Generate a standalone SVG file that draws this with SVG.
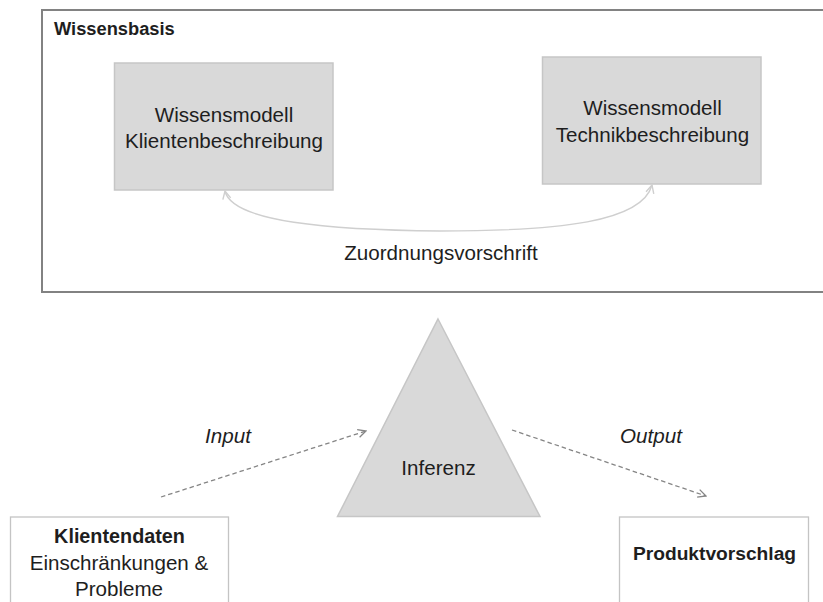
<svg xmlns="http://www.w3.org/2000/svg" width="823" height="602" viewBox="0 0 823 602">
  <style>
    text { font-family: "Liberation Sans", Arial, sans-serif; fill: #1e1e1e; }
    .lbl { font-size: 20.6px; text-anchor: middle; }
    .bold { font-weight: bold; }
    .ital { font-style: italic; }
    .title { font-size: 18.3px; }
    .client { font-size: 19.8px; }
    .product { font-size: 19.2px; }
    .model { fill: #d9d9d9; stroke: #c6c6c6; stroke-width: 1.5; }
    .plain { fill: #ffffff; stroke: #c4c4c4; stroke-width: 1.3; }
    .flow { fill: none; stroke: #858585; stroke-width: 1.3; stroke-dasharray: 4.5 3; }
    .map { fill: none; stroke: #cfcfcf; stroke-width: 1.4; }
  </style>
  <defs>
    <marker id="chevDark" viewBox="0 0 10 10" refX="9" refY="5" markerWidth="10" markerHeight="10" markerUnits="userSpaceOnUse" orient="auto">
      <path d="M1,1 L9,5 L1,9" fill="none" stroke="#858585" stroke-width="1.3"/>
    </marker>
    <marker id="chevLight" viewBox="0 0 10 10" refX="9" refY="5" markerWidth="10" markerHeight="10" markerUnits="userSpaceOnUse" orient="auto-start-reverse">
      <path d="M1,1 L9,5 L1,9" fill="none" stroke="#cfcfcf" stroke-width="1.4"/>
    </marker>
  </defs>

  <rect width="823" height="602" fill="#ffffff"/>

  <!-- knowledge base container -->
  <g id="wissensbasis">
    <rect x="42" y="10" width="800" height="282" fill="none" stroke="#828282" stroke-width="2"/>
    <text x="54" y="35" class="bold title">Wissensbasis</text>
  </g>

  <g id="modell-klienten">
    <rect class="model" x="114.5" y="63" width="218.5" height="127"/>
    <text class="lbl" x="224" y="121.5">Wissensmodell</text>
    <text class="lbl" x="224" y="148">Klientenbeschreibung</text>
  </g>

  <g id="modell-technik">
    <rect class="model" x="542.5" y="57" width="218.5" height="127"/>
    <text class="lbl" x="652.5" y="115">Wissensmodell</text>
    <text class="lbl" x="652.5" y="141.5">Technikbeschreibung</text>
  </g>

  <g id="inferenz">
    <polygon class="model" points="438,319 540,516.5 337.5,516.5"/>
    <text class="lbl" x="438.5" y="475">Inferenz</text>
  </g>

  <g id="klientendaten">
    <rect class="plain" x="10.5" y="517" width="218" height="100"/>
    <text class="lbl bold client" x="119.5" y="542.5">Klientendaten</text>
    <text class="lbl" x="119" y="570">Einschränkungen &amp;</text>
    <text class="lbl" x="119" y="596">Probleme</text>
  </g>

  <g id="produktvorschlag">
    <rect class="plain" x="619.5" y="517" width="189" height="100"/>
    <text class="lbl bold product" x="714.5" y="560">Produktvorschlag</text>
  </g>

  <!-- connectors -->
  <g id="connectors">
    <path class="map" d="M225,191 C232,222 330,230 440,231 C560,231 642,222 652,185" marker-start="url(#chevLight)" marker-end="url(#chevLight)"/>
    <text class="lbl" x="441" y="260">Zuordnungsvorschrift</text>

    <path class="flow" d="M161,497 L366,431" marker-end="url(#chevDark)"/>
    <text class="lbl ital" x="228" y="443">Input</text>

    <path class="flow" d="M512,430 L706,496" marker-end="url(#chevDark)"/>
    <text class="lbl ital" x="651" y="443">Output</text>
  </g>
</svg>
